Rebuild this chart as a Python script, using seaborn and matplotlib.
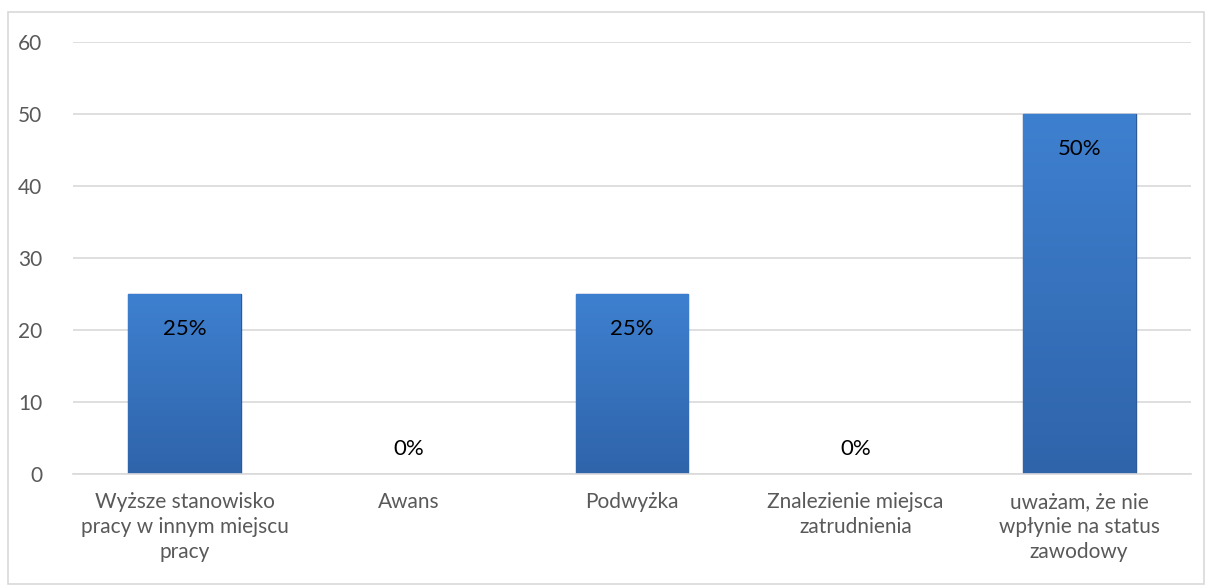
import numpy as np
import pandas as pd
import matplotlib.pyplot as plt
from matplotlib.patches import Rectangle
from matplotlib.colors import LinearSegmentedColormap
import seaborn as sns

categories = ["Wyższe stanowisko\npracy w innym miejscu\npracy", "Awans", "Podwyżka",
              "Znalezienie miejsca\nzatrudnienia", "uważam, że nie\nwpłynie na status\nzawodowy"]
values = [25, 0, 25, 0, 50]
labels = ["25%", "0%", "25%", "0%", "50%"]

sns.set_theme(style="white")
plt.rcParams['font.family'] = ['Lato', 'DejaVu Sans']

df = pd.DataFrame({"cat": categories, "val": values})

fig = plt.figure(figsize=(12.08, 5.86), dpi=100)
ax = fig.add_axes([73 / 1208, 112 / 586, (1191 - 73) / 1208, (474 - 42) / 586])

sns.barplot(data=df, x="cat", y="val", color="#3a78c9", width=0.505, ax=ax,
            edgecolor="#2c5a96", linewidth=1.0, saturation=1)

# vertical gradient like the original bevelled bars
cmap = LinearSegmentedColormap.from_list("g", ["#2f64aa", "#3e80d0"])
grad = np.linspace(0, 1, 256).reshape(-1, 1)
for p in ax.patches:
    if p.get_height() <= 0:
        p.set_visible(False)
        continue
    x0, w, h = p.get_x(), p.get_width(), p.get_height()
    im = ax.imshow(grad, cmap=cmap, origin="lower", aspect="auto",
                   extent=[x0, x0 + w, 0, h], zorder=p.get_zorder() + 0.1)
    im.set_clip_path(p)

ax.set_ylim(0, 60)
ax.set_yticks(range(0, 61, 10))
ax.set_xlim(-0.5, 4.5)
ax.yaxis.grid(True, color="#d9d9d9", linewidth=1.2)
ax.set_axisbelow(True)
for s in ["top", "right", "left"]:
    ax.spines[s].set_visible(False)
ax.spines["bottom"].set_color("#d9d9d9")
ax.spines["bottom"].set_linewidth(1.2)
ax.set_xlabel("")
ax.set_ylabel("")
ax.tick_params(axis="y", length=0, pad=22, labelsize=15, labelcolor="#595959")
ax.tick_params(axis="x", length=0, pad=13, labelsize=15, labelcolor="#595959")
for t in ax.get_xticklabels():
    t.set_linespacing(1.3)

for i, (v, lab) in enumerate(zip(values, labels)):
    off = -25 if v > 0 else 18
    ax.annotate(lab, (i, v), xytext=(0, off), textcoords="offset points",
                ha="center", va="center", fontsize=16, color="black", zorder=5)

fig.patches.append(Rectangle((8 / 1208, 2 / 586), 1196 / 1208, 572 / 586, transform=fig.transFigure,
                             fill=False, edgecolor="#d9d9d9", linewidth=1.2))

fig.savefig("out.png", dpi=100)
